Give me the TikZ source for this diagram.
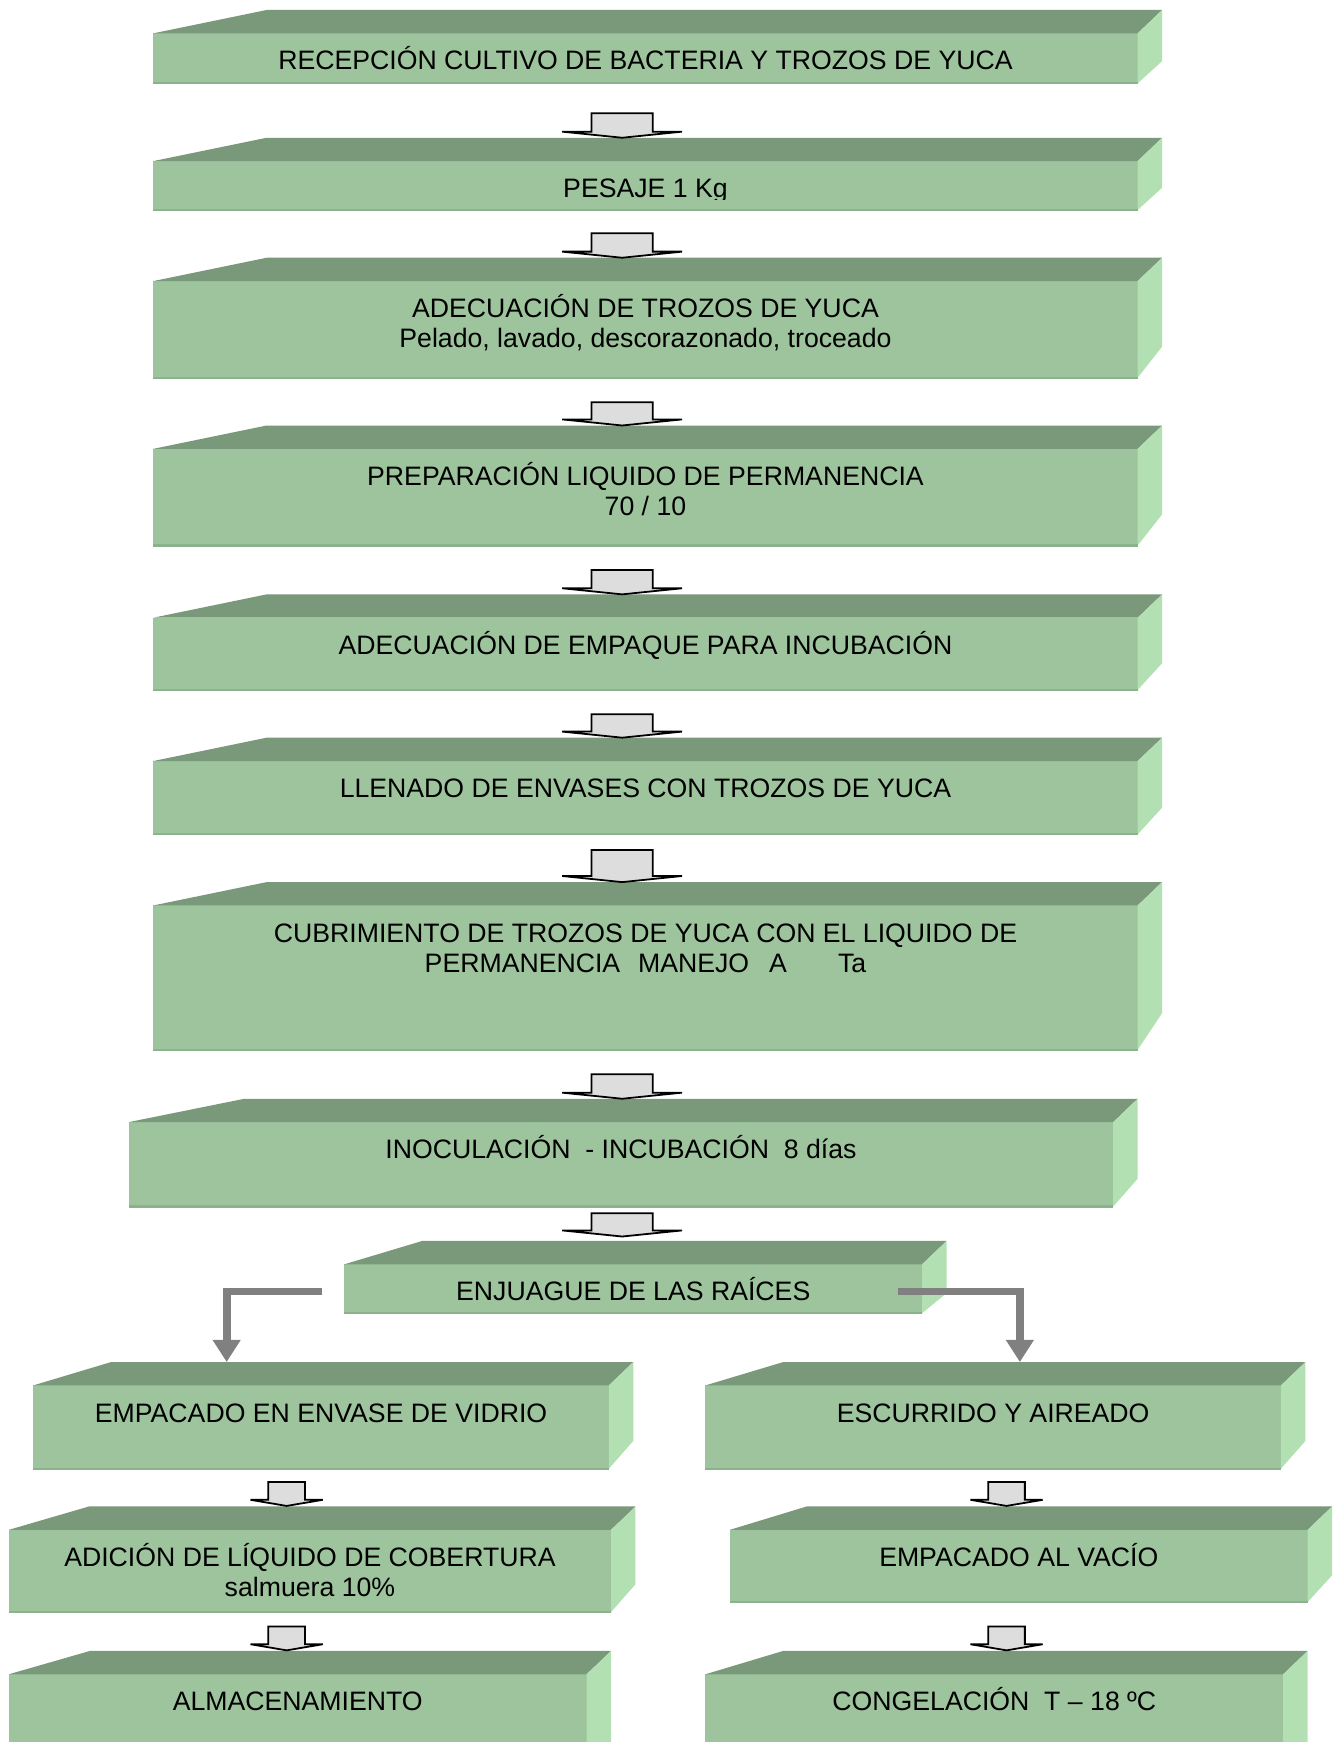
\documentclass[tikz,border=0pt]{standalone}
\usepackage{fontspec}
\setmainfont{Liberation Sans}
\usetikzlibrary{arrows.meta,calc}
\definecolor{topc}{RGB}{122,152,122}
\definecolor{frontc}{RGB}{157,196,157}
\definecolor{sidec}{RGB}{179,224,179}
\definecolor{edgec}{RGB}{140,178,140}
\definecolor{conng}{RGB}{128,128,128}
\definecolor{arrg}{RGB}{221,221,221}
\tikzset{
  front/.style={fill=frontc, draw=none, inner sep=0pt, outer sep=0pt, anchor=north west},
  boxtxt/.style={inner sep=0pt, outer sep=0pt, anchor=north, align=center, font=\fontsize{12}{13.5}\selectfont},
  topface/.style={fill=topc},
  sideface/.style={fill=sidec},
  bottomedge/.style={draw=edgec, line width=1pt},
  blockarrow/.style={fill=arrg, draw=black, line width=0.8pt, line join=miter},
  conn/.style={draw=conng, line width=3.5pt, -{Triangle[width=12pt,length=10pt]}},
}
% name, x1, x2, y1, y2, back-left offset, side bottom rise
\newcommand\gbox[7]{%
  \node[front, minimum width={(#3-#2)*0.5pt}, minimum height={(#5-#4)*0.5pt}] (#1) at (#2,#4) {};
  \fill[topface] (#1.north west) -- ++(#6,-21) -- ([shift={(22,-21)}]#1.north east) -- (#1.north east) -- cycle;
  \fill[sideface] (#1.north east) -- ++(22,-21) -- ([shift={(22,-#7)}]#1.south east) -- (#1.south east) -- cycle;
  \draw[bottomedge] (#1.south west) -- (#1.south east);
}
\newcommand\btext[2]{%
  \node[boxtxt] (#1-t) at ([yshift=-4.5pt]#1.north) {\rule{0pt}{12pt}#2};
}
% name, cx, ytop, yshoulder, ytip, body half width, head half width
\newcommand\blockarr[7]{%
  \filldraw[blockarrow] ({#2-#6},#3) -- ({#2+#6},#3) -- ({#2+#6},#4) -- ({#2+#7},#4) -- (#2,#5) coordinate (#1) -- ({#2-#7},#4) -- ({#2-#6},#4) -- cycle;
}
\begin{document}
\begin{tikzpicture}[x=0.5pt,y=-0.5pt]
\clip (0,0) rectangle (1207,1568);
\fill[white] (0,0) rectangle (1207,1568);

\gbox{b1}{138}{1024}{30}{75}{102}{20}
\btext{b1}{RECEPCIÓN CULTIVO DE BACTERIA Y TROZOS DE YUCA}
\gbox{b2}{138}{1024}{145}{189}{102}{20}
\begin{scope}
  \clip (138,145) rectangle (1024,179.5);
  \btext{b2}{PESAJE 1 Kg}
\end{scope}
\gbox{b3}{138}{1024}{253}{340}{102}{28}
\btext{b3}{ADECUACIÓN DE TROZOS DE YUCA\\Pelado, lavado, descorazonado, troceado}
\gbox{b4}{138}{1024}{404}{491}{102}{28}
\btext{b4}{PREPARACIÓN LIQUIDO DE PERMANENCIA\\70 / 10}
\gbox{b5}{138}{1024}{556}{621}{102}{24}
\btext{b5}{ADECUACIÓN DE EMPAQUE PARA INCUBACIÓN}
\gbox{b6}{138}{1024}{685}{751}{102}{24}
\btext{b6}{LLENADO DE ENVASES CON TROZOS DE YUCA}
\gbox{b7}{138}{1024}{815}{945}{102}{33}
\btext{b7}{CUBRIMIENTO DE TROZOS DE YUCA CON EL LIQUIDO DE\\PERMANENCIA\hspace{8pt}MANEJO\hspace{9pt}A\hspace{23pt}Ta}
\gbox{b8}{116}{1002}{1010}{1086}{104}{25}
\btext{b8}{INOCULACIÓN\ \ - INCUBACIÓN\ \ 8 días}
\gbox{b9}{310}{830}{1138}{1182}{70}{18}
\btext{b9}{ENJUAGUE DE LAS RAÍCES}

\gbox{l1}{30}{548}{1247}{1322}{70}{25}
\btext{l1}{EMPACADO EN ENVASE DE VIDRIO}
\gbox{r1}{635}{1153}{1247}{1322}{70}{25}
\btext{r1}{ESCURRIDO Y AIREADO}
\gbox{l2}{8}{550}{1377}{1451}{72}{25}
\btext{l2}{ADICIÓN DE LÍQUIDO DE COBERTURA\\salmuera 10\%}
\gbox{r2}{657}{1177}{1377}{1442}{69}{24}
\btext{r2}{EMPACADO AL VACÍO}
\gbox{l3}{8}{528}{1507}{1620}{73}{25}
\btext{l3}{ALMACENAMIENTO}
\gbox{r3}{635}{1155}{1507}{1620}{70}{25}
\btext{r3}{CONGELACIÓN\ \ T – 18 ºC}

% block arrows
\blockarr{a1}{560}{102}{118.5}{124}{27.5}{54}
\blockarr{a2}{560}{210}{226.5}{232}{27.5}{54}
\blockarr{a3}{560}{362}{377.5}{383}{27.5}{54}
\blockarr{a4}{560}{513}{529.5}{535}{27.5}{54}
\blockarr{a5}{560}{643}{658.5}{664}{27.5}{54}
\blockarr{a6}{560}{765}{788.5}{794}{27.5}{54}
\blockarr{a7}{560}{967}{983.5}{989}{27.5}{54}
\blockarr{a8}{560}{1092}{1107.5}{1113}{27.5}{54}
\blockarr{al1}{258}{1334}{1350}{1355.5}{16.5}{32.5}
\blockarr{ar1}{906}{1334}{1350}{1355.5}{16.5}{32.5}
\blockarr{al2}{258}{1464}{1480}{1485.5}{16.5}{32.5}
\blockarr{ar2}{906}{1464}{1480}{1485.5}{16.5}{32.5}

% gray connectors
\coordinate (l1in) at (204,1226);
\coordinate (r1in) at (918,1226);
\draw[conn] ([xshift=-10pt,yshift=-1.25pt]b9.west) -| (l1in);
\draw[conn] ([xshift=-11pt,yshift=-1.25pt]b9.east) -| (r1in);
\end{tikzpicture}
\end{document}
